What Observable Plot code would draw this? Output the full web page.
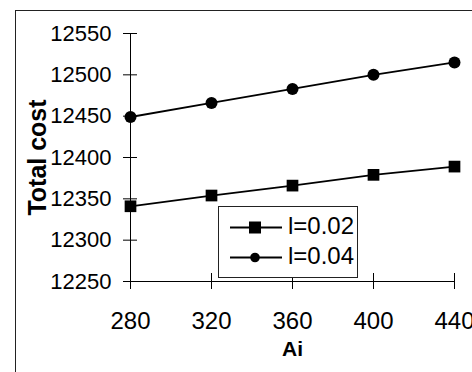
<!DOCTYPE html>
<html>
<head>
<meta charset="utf-8">
<script src="https://cdn.jsdelivr.net/npm/d3@7"></script>
<script src="https://cdn.jsdelivr.net/npm/@observablehq/plot@0.6"></script>
<style>
  html, body { margin: 0; padding: 0; background: #fff; overflow: hidden; }
  #wrap { position: relative; width: 472px; height: 372px; font-family: "Liberation Sans", Arial, sans-serif; }
  #frame { position: absolute; left: 15px; top: 10px; width: 600px; height: 600px; border-left: 1px solid #222; border-top: 1px solid #222; pointer-events: none; }
  #legend { position: absolute; left: 218px; top: 206px; width: 138px; height: 70px; border: 1px solid #222; background: #fff; }
  #legend svg { position: absolute; left: 0; top: 0; }
</style>
</head>
<body>
<div id="wrap"></div>
<script>
const ai = [280, 320, 360, 400, 440];
const cost002 = [12341, 12354, 12366, 12379, 12389];
const cost004 = [12449, 12466, 12483, 12500, 12515];
const yTicks = [12250, 12300, 12350, 12400, 12450, 12500, 12550];
const xTicks = [280, 320, 360, 400, 440];
const seriesNames = ["l=0.02", "l=0.04"];

const rows002 = ai.map((x, i) => ({x, y: cost002[i]}));
const rows004 = ai.map((x, i) => ({x, y: cost004[i]}));

const chart = Plot.plot({
  width: 472,
  height: 372,
  marginLeft: 130,
  marginRight: 18,
  marginTop: 33,
  marginBottom: 91,
  style: {fontFamily: "Liberation Sans, Arial, sans-serif", background: "transparent", overflow: "visible"},
  x: {domain: [280, 440], label: null},
  y: {domain: [12250, 12550], label: null},
  marks: [
    Plot.ruleX([280], {stroke: "#000", strokeWidth: 1}),
    Plot.ruleY([12250], {stroke: "#000", strokeWidth: 1}),
    // crossing tick marks
    Plot.axisY(yTicks, {tickSize: 14, dx: 7, tickFormat: () => "", stroke: "#000", strokeOpacity: 1}),
    Plot.axisX(xTicks, {tickSize: 16, dy: -8, tickFormat: () => "", stroke: "#000", strokeOpacity: 1}),
    // tick labels
    Plot.axisY(yTicks, {tickSize: 0, tickPadding: 19, fontSize: 22, fill: "#000", tickFormat: d => String(d)}),
    Plot.axisX(xTicks, {tickSize: 0, tickPadding: 30, fontSize: 24, fill: "#000", tickFormat: d => String(d)}),
    // axis titles
    Plot.text(["Total cost"], {frameAnchor: "left", textAnchor: "middle", dx: -93, rotate: -90, fontSize: 25, fontWeight: "bold", fill: "#000", lineAnchor: "middle"}),
    Plot.text(["Ai"], {x: () => 360, frameAnchor: "bottom", dy: 68, fontSize: 21, fontWeight: "bold", fill: "#000", lineAnchor: "middle"}),
    // series
    Plot.line(rows002, {x: "x", y: "y", stroke: "#000", strokeWidth: 1.8}),
    Plot.dot(rows002, {x: "x", y: "y", symbol: "square", r: 6.6, fill: "#000", stroke: "none"}),
    Plot.line(rows004, {x: "x", y: "y", stroke: "#000", strokeWidth: 1.8}),
    Plot.dot(rows004, {x: "x", y: "y", symbol: "circle", r: 6, fill: "#000", stroke: "none"})
  ]
});

const wrap = document.getElementById("wrap");
wrap.appendChild(chart);
const frame = document.createElement("div");
frame.id = "frame";
wrap.appendChild(frame);

// legend
const legend = document.createElement("div");
legend.id = "legend";
const NS = "http://www.w3.org/2000/svg";
const lsvg = document.createElementNS(NS, "svg");
lsvg.setAttribute("width", 138);
lsvg.setAttribute("height", 70);
const rowsY = [20.5, 50.5];
seriesNames.forEach((name, i) => {
  const y = rowsY[i];
  const line = document.createElementNS(NS, "line");
  line.setAttribute("x1", 11); line.setAttribute("x2", 63);
  line.setAttribute("y1", y); line.setAttribute("y2", y);
  line.setAttribute("stroke", "#000"); line.setAttribute("stroke-width", 1.8);
  lsvg.appendChild(line);
  if (i === 0) {
    const r = document.createElementNS(NS, "rect");
    r.setAttribute("x", 36 - 6); r.setAttribute("y", y - 6);
    r.setAttribute("width", 12); r.setAttribute("height", 12);
    r.setAttribute("fill", "#000");
    lsvg.appendChild(r);
  } else {
    const c = document.createElementNS(NS, "circle");
    c.setAttribute("cx", 36); c.setAttribute("cy", y); c.setAttribute("r", 4.8);
    c.setAttribute("fill", "#000");
    lsvg.appendChild(c);
  }
  const t = document.createElementNS(NS, "text");
  t.setAttribute("x", 69); t.setAttribute("y", y + 6.5);
  t.setAttribute("font-size", 24);
  t.setAttribute("font-family", "Liberation Sans, Arial, sans-serif");
  t.setAttribute("fill", "#000");
  t.textContent = name;
  lsvg.appendChild(t);
});
legend.appendChild(lsvg);
wrap.appendChild(legend);
</script>
</body>
</html>
